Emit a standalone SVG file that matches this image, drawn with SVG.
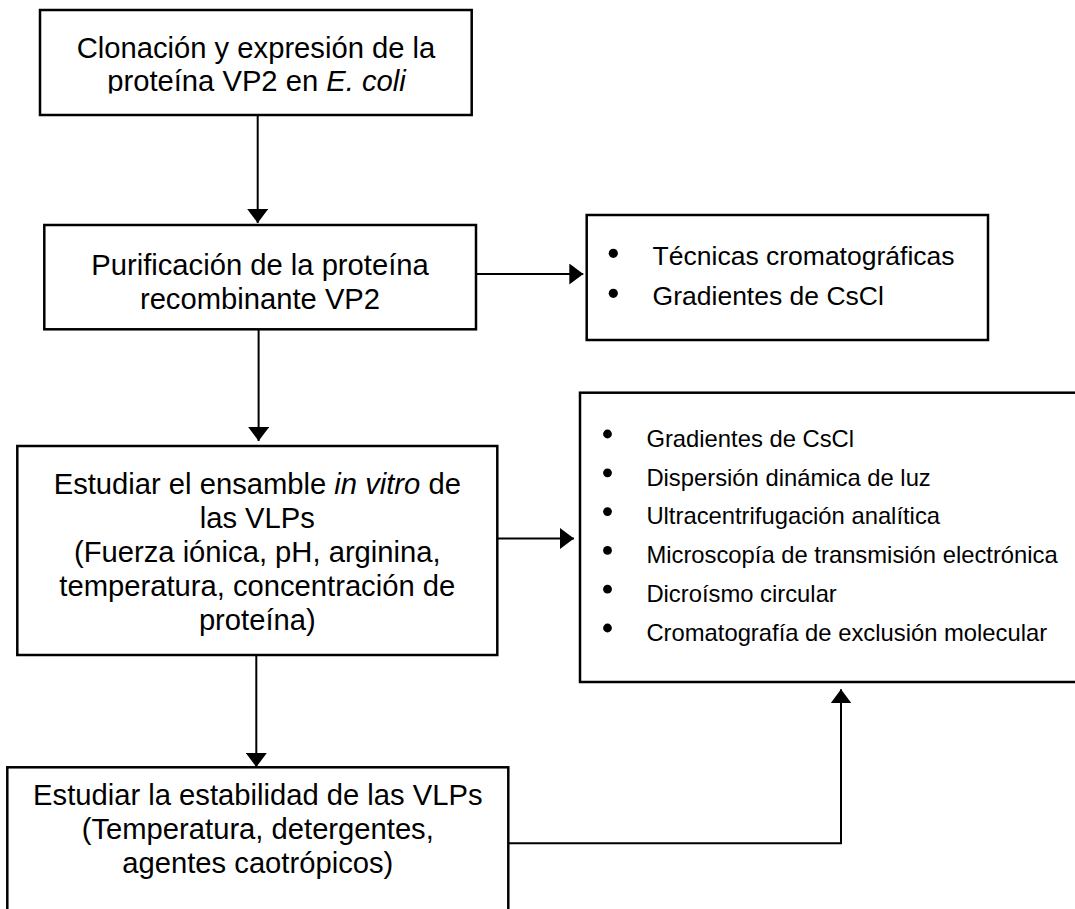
<svg xmlns="http://www.w3.org/2000/svg" width="1075" height="909" viewBox="0 0 1075 909">
<style>
  .box { fill: #ffffff; stroke: #000000; stroke-width: 2.5; }
  .t { font-family: "Liberation Sans", Arial, sans-serif; fill: #000000; }
  .main { font-size: 29.2px; text-anchor: middle; }
  .tech { font-size: 26.5px; }
  .list { font-size: 23.8px; }
  .it { font-style: italic; }
  .conn line, .conn polyline { stroke: #000000; stroke-width: 2; fill: none; }
  .dot { fill: #000000; }
</style>
<defs>
  <marker id="ah" markerUnits="userSpaceOnUse" markerWidth="14" markerHeight="21" refX="14" refY="10.5" orient="auto" viewBox="0 0 14 21">
    <path d="M0,0 L14,10.5 L0,21 z" fill="#000000"/>
  </marker>
  <clipPath id="clip1">
    <rect x="40" y="10" width="432" height="83.5"/>
  </clipPath>
</defs>
<rect width="1075" height="909" fill="#ffffff"/>

<g id="node-clonacion">
  <rect class="box" x="40" y="10" width="431.7" height="105"/>
  <g clip-path="url(#clip1)">
    <text class="t main" x="256" y="58.3">Clonación y expresión de la</text>
    <text class="t main" x="256.5" y="90.5">proteína VP2 en <tspan class="it">E. coli</tspan></text>
  </g>
</g>

<g id="node-purificacion">
  <rect class="box" x="44.3" y="225" width="431.7" height="104.3"/>
  <text class="t main" x="260" y="275">Purificación de la proteína</text>
  <text class="t main" x="260" y="309">recombinante VP2</text>
</g>

<g id="node-tecnicas">
  <rect class="box" x="586.7" y="215" width="401.3" height="125"/>
  <circle class="dot" cx="613.3" cy="253.3" r="4.6"/>
  <text class="t tech" x="652.6" y="265">Técnicas cromatográficas</text>
  <circle class="dot" cx="613.3" cy="293.3" r="4.6"/>
  <text class="t tech" x="652.6" y="305">Gradientes de CsCl</text>
</g>

<g id="node-ensamble">
  <rect class="box" x="17.3" y="446" width="480" height="209"/>
  <text class="t main" x="257.3" y="493.5">Estudiar el ensamble <tspan class="it">in vitro</tspan> de</text>
  <text class="t main" x="257.3" y="527.8">las VLPs</text>
  <text class="t main" x="257.3" y="561.7">(Fuerza iónica, pH, arginina,</text>
  <text class="t main" x="257.3" y="595.5">temperatura, concentración de</text>
  <text class="t main" x="257.3" y="630">proteína)</text>
</g>

<g id="node-metodos">
  <rect class="box" x="580" y="392.7" width="520" height="289.3"/>
  <circle class="dot" cx="607.5" cy="434" r="4.4"/>
  <text class="t list" x="646.4" y="446.7">Gradientes de CsCl</text>
  <circle class="dot" cx="607.5" cy="472.8" r="4.4"/>
  <text class="t list" x="646.4" y="485.5">Dispersión dinámica de luz</text>
  <circle class="dot" cx="607.5" cy="511.6" r="4.4"/>
  <text class="t list" x="646.4" y="524.3">Ultracentrifugación analítica</text>
  <circle class="dot" cx="607.5" cy="550.4" r="4.4"/>
  <text class="t list" x="646.4" y="563.1">Microscopía de transmisión electrónica</text>
  <circle class="dot" cx="607.5" cy="589.2" r="4.4"/>
  <text class="t list" x="646.4" y="601.9">Dicroísmo circular</text>
  <circle class="dot" cx="607.5" cy="628" r="4.4"/>
  <text class="t list" x="646.4" y="640.7">Cromatografía de exclusión molecular</text>
</g>

<g id="node-estabilidad">
  <rect class="box" x="7.3" y="767.3" width="501" height="160"/>
  <text class="t main" x="257.8" y="805">Estudiar la estabilidad de las VLPs</text>
  <text class="t main" x="257.8" y="838.6">(Temperatura, detergentes,</text>
  <text class="t main" x="257.8" y="872.5">agentes caotrópicos)</text>
</g>

<g id="connectors" class="conn">
  <line x1="257.7" y1="115" x2="257.7" y2="223" marker-end="url(#ah)"/>
  <line x1="258.6" y1="329.3" x2="258.6" y2="441" marker-end="url(#ah)"/>
  <line x1="256.3" y1="655" x2="256.3" y2="767" marker-end="url(#ah)"/>
  <line x1="476" y1="274" x2="583.3" y2="274" marker-end="url(#ah)"/>
  <line x1="497.3" y1="538.5" x2="574" y2="538.5" marker-end="url(#ah)"/>
  <polyline points="508.3,843.3 841,843.3 841,689.3" marker-end="url(#ah)"/>
</g>
</svg>
